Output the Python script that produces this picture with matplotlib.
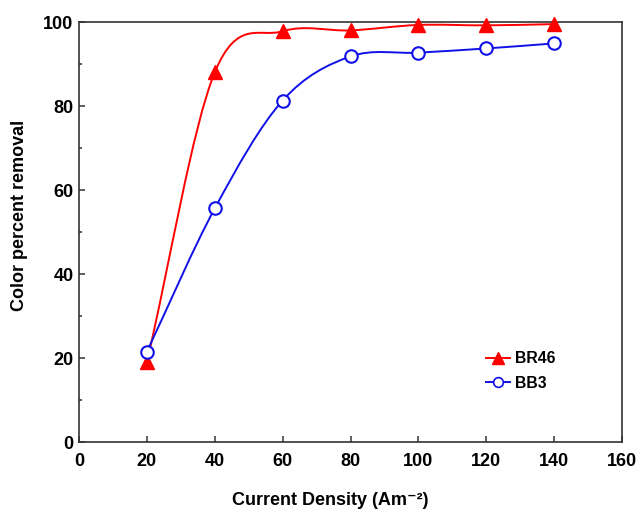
import numpy as np
import matplotlib
matplotlib.use("Agg")
import matplotlib.pyplot as plt
from matplotlib.path import Path
from matplotlib.patches import PathPatch
from matplotlib.ticker import MultipleLocator

# Data
current_density = [20, 40, 60, 80, 100, 120, 140]
br46 = [19.0, 88.0, 97.8, 98.0, 99.3, 99.2, 99.5]
bb3 = [21.5, 55.6, 81.3, 91.8, 92.7, 93.7, 94.9]

plt.rcParams['font.family'] = ['Liberation Sans', 'DejaVu Sans']
plt.rcParams['font.weight'] = 'bold'


def smooth_path(x, y):
    # Catmull-Rom style spline drawn as cubic bezier segments
    x = np.asarray(x, float)
    y = np.asarray(y, float)
    n = len(x)
    tx = np.zeros(n)
    ty = np.zeros(n)
    for i in range(n):
        a = max(i - 1, 0)
        b = min(i + 1, n - 1)
        tx[i] = (x[b] - x[a]) / (b - a)
        ty[i] = (y[b] - y[a]) / (b - a)
    verts = [(x[0], y[0])]
    codes = [Path.MOVETO]
    for i in range(n - 1):
        verts += [(x[i] + tx[i] / 3, y[i] + ty[i] / 3),
                  (x[i + 1] - tx[i + 1] / 3, y[i + 1] - ty[i + 1] / 3),
                  (x[i + 1], y[i + 1])]
        codes += [Path.CURVE4] * 3
    return Path(verts, codes)


fig = plt.figure(figsize=(6.38, 5.11), dpi=100)
ax = fig.add_axes([79 / 638, 69 / 511, 543 / 638, 420 / 511])

ax.add_patch(PathPatch(smooth_path(current_density, br46), fill=False,
                       edgecolor="#ff0000", lw=1.4, zorder=2))
ax.add_patch(PathPatch(smooth_path(current_density, bb3), fill=False,
                       edgecolor="#1010e8", lw=1.4, zorder=2))

ax.plot(current_density, br46, linestyle="none", marker="^", ms=9.5,
        color="#ff0000", zorder=3, clip_on=False)
ax.plot(current_density, bb3, linestyle="none", marker="o", ms=9,
        mfc="white", mec="#1010e8", mew=1.5, zorder=3)

# legend handles
ax.plot([], [], color="#ff0000", lw=1.4, marker="^", ms=8, label="BR46")
ax.plot([], [], color="#1010e8", lw=1.4, marker="o", ms=7, mfc="white",
        mec="#1010e8", mew=1.2, label="BB3")
ax.legend(loc="upper left", bbox_to_anchor=(0.736, 0.235), frameon=False,
          borderpad=0, handlelength=1.5, handletextpad=0.3,
          labelspacing=0.6, prop={"weight": "bold", "size": 11.3})

ax.set_xlim(0, 160)
ax.set_ylim(0, 100)
ax.xaxis.set_major_locator(MultipleLocator(20))
ax.yaxis.set_major_locator(MultipleLocator(20))
ax.yaxis.set_minor_locator(MultipleLocator(10))
ax.tick_params(which="both", direction="in", top=False, right=False,
               labelsize=13, color="#333333")
ax.tick_params(which="major", length=4, width=1.1)
ax.tick_params(which="minor", length=2.5, width=1.1)
ax.tick_params(axis="x", pad=8)
ax.tick_params(axis="y", pad=4)
for s in ax.spines.values():
    s.set_color("#333333")
    s.set_linewidth(1.2)

ax.set_xlabel("Current Density (Am\u207b\u00b2)", fontsize=13,
              fontweight="bold")
ax.xaxis.set_label_coords(0.462, -0.12)
ax.set_ylabel("Color percent removal", fontsize=13, fontweight="bold")
ax.yaxis.set_label_coords(-0.094, 0.54)

fig.savefig("out.png", dpi=100)
